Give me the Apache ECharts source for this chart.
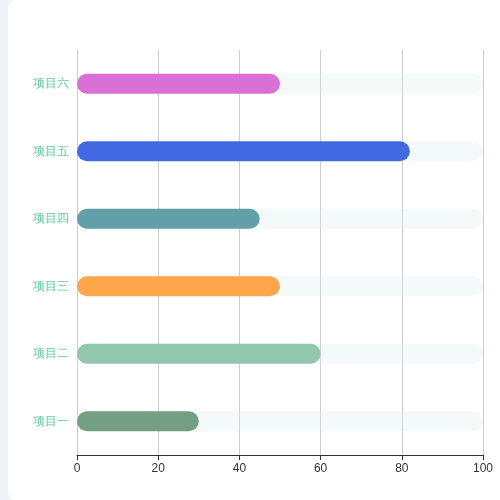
<!DOCTYPE html>
<html><head><meta charset="utf-8">
<script src="https://cdn.jsdelivr.net/npm/echarts@6/dist/echarts.min.js"></script>
<style>
html,body{margin:0;padding:0;background:#f2f3f8;width:500px;height:500px;overflow:hidden;}
#card{position:absolute;left:8px;top:0;width:520px;height:500px;background:#fff;border-radius:8px;}
#main{position:absolute;left:0;top:0;width:500px;height:500px;}
</style></head>
<body><div id="card"></div><div id="main"></div>
<script>
const categories = ['项目一','项目二','项目三','项目四','项目五','项目六'];
const values = [30, 60, 50, 45, 82, 50];
const barColors = ['#749f83','#91c7ae','#ffa64d','#61a0a8','#4169e1','#da70d6'];
const xTicks = [0, 20, 40, 60, 80, 100];

const chart = echarts.init(document.getElementById('main'));
chart.setOption({
  backgroundColor: 'transparent',
  animation: false,
  grid: {left: 77, right: 17, top: 50, bottom: 45},
  xAxis: {
    type: 'value', min: xTicks[0], max: xTicks[xTicks.length-1], interval: 20,
    axisLine: {show: true, lineStyle: {color: '#333'}},
    axisTick: {show: true, lineStyle: {color: '#333'}},
    axisLabel: {color: '#333', fontSize: 12},
    splitLine: {show: true, lineStyle: {color: '#ccc'}}
  },
  yAxis: {
    type: 'category', data: categories,
    axisLine: {show: true, lineStyle: {color: '#ccc'}},
    axisTick: {show: false},
    axisLabel: {color: '#5ecb9f', fontSize: 12}
  },
  series: [{
    type: 'bar',
    data: values.map((v, i) => ({value: v, itemStyle: {color: barColors[i]}})),
    barWidth: 20,
    itemStyle: {borderRadius: 10},
    showBackground: true,
    backgroundStyle: {color: 'rgba(215,232,238,0.28)', borderRadius: 10}
  }]
});
</script></body></html>
